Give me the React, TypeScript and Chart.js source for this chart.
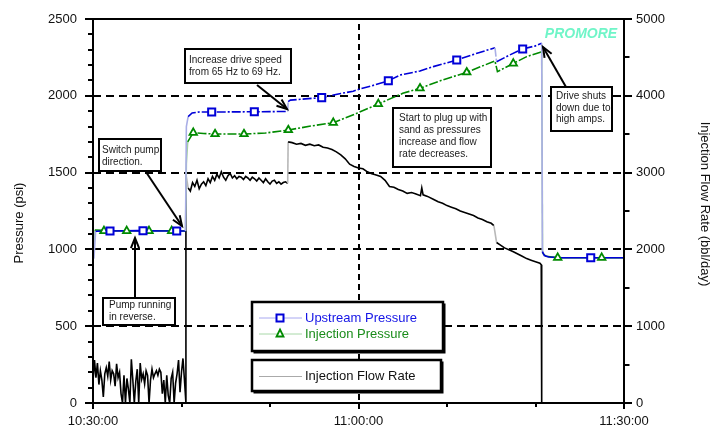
import React, { useEffect, useRef } from "react";
import { Chart, registerables } from "chart.js";

Chart.register(...registerables);

const FONT = '"Liberation Sans", Arial, Helvetica, sans-serif';

// ---- X axis (minutes after 10:30:00) ----
const xTickMinutes = [0, 30, 60];
const xTickLabels = ["10:30:00", "11:00:00", "11:30:00"];
const xMinorMinutes = [10, 20, 40, 50];

// ---- Upstream pressure (psi) ----
const upstreamTimes = [0.1, 0.3, 2, 5, 8, 10.45, 10.55, 10.75, 11.2, 12, 15, 18, 20, 22.0, 22.05, 22.3, 24, 25.84, 28, 29.4, 30.2, 31.5, 33.37, 34.69, 36.95, 38.45, 40, 41.1, 43.4, 45.42, 45.6, 47.1, 48.55, 50.0, 50.7, 50.78, 51.0, 51.5, 53, 56.24, 60];
const upstreamPsi = [940, 1118, 1120, 1122, 1120, 1120, 1800, 1865, 1888, 1895, 1895, 1896, 1897, 1898, 1962, 1972, 1980, 1988, 2015, 2030, 2045, 2065, 2098, 2135, 2162, 2190, 2215, 2233, 2277, 2313, 2222, 2266, 2305, 2325, 2342, 985, 960, 950, 946, 946, 946];
const upstreamMarkerTimes = [1.92, 5.65, 9.46, 13.41, 18.23, 25.84, 33.37, 41.1, 48.55, 56.24];
const upstreamMarkerPsi = [1120, 1121, 1120, 1895, 1896, 1988, 2098, 2233, 2305, 946];

// ---- Injection pressure (psi) ----
const injectionTimes = [0.0, 0.2, 2, 5, 8, 10.45, 10.55, 10.7, 11.33, 12.5, 13.79, 17.06, 19.5, 22.07, 24.6, 27.15, 29.8, 32.24, 35.0, 36.95, 39.5, 42.23, 45.42, 45.7, 47.49, 49.0, 50.7, 50.8, 51.2, 52.51, 57.48, 60];
const injectionPsi = [940, 1126, 1122, 1121, 1121, 1120, 1560, 1700, 1760, 1755, 1751, 1751, 1758, 1777, 1803, 1825, 1886, 1947, 2016, 2049, 2103, 2153, 2227, 2157, 2211, 2255, 2287, 975, 955, 946, 946, 946];
const injectionMarkerTimes = [1.24, 3.81, 6.33, 8.89, 11.33, 13.79, 17.06, 22.07, 27.15, 32.24, 36.95, 42.23, 47.49, 52.51, 57.48];
const injectionMarkerPsi = [1120, 1120, 1120, 1120, 1760, 1751, 1751, 1777, 1825, 1947, 2049, 2153, 2211, 946, 946];

// ---- Injection flow rate (bbl/day) ----
// reverse running, sampled every 10 s from 10:30:00
const flowReverseStart = 0;
const flowReverseStep = 1 / 6;
const flowReverse = [280, 560, 330, 520, 240, 420, 300, 80, 380, 460, 350, 540, 300, 420, 380, 220, 510, 330, 400, 120, 0, 360, 0, 320, 180, 0, 570, 300, 0, 280, 440, 0, 520, 310, 380, 250, 420, 360, 0, 300, 440, 330, 380, 420, 360, 440, 400, 120, 300, 0, 360, 100, 0, 320, 400, 0, 260, 380, 560, 140, 400, 580, 300, 0];
// forward at 65 Hz, sampled every 15 s from 10:40:30
const flowForwardStart = 10.5;
const flowForwardStep = 0.25;
const flowForward = [2980, 2800, 2760, 2870, 2820, 2900, 2790, 2850, 2880, 2830, 2920, 2870, 2950, 2900, 2980, 2930, 3010, 2940, 2900, 2960, 2990, 2930, 2960, 2920, 2950, 2940, 2910, 2950, 2930, 2900, 2940, 2920, 2890, 2930, 2900, 2870, 2920, 2880, 2850, 2890, 2900, 2860, 2880, 2850, 2870, 2880, 2860];
// 69 Hz, plugging up with sand, until shutdown
const flowPlugTimes = [22.05, 22.5, 23, 23.5, 24, 24.5, 25, 25.5, 26, 26.5, 27, 27.5, 28, 28.5, 29, 29.5, 30, 30.5, 31, 31.5, 32, 32.5, 33, 33.5, 34, 34.5, 35, 35.5, 36, 36.5, 37, 37.15, 37.3, 37.8, 38.5, 39, 39.5, 40, 40.5, 41, 41.5, 42, 42.5, 43, 43.5, 44, 44.5, 45, 45.3, 45.6, 46, 46.5, 47, 47.5, 48, 48.5, 49, 49.5, 50, 50.5, 50.65, 50.7, 60];
const flowPlugValues = [3400, 3390, 3370, 3380, 3355, 3370, 3350, 3360, 3330, 3320, 3300, 3270, 3230, 3180, 3110, 3080, 3060, 3050, 3010, 2985, 2970, 2950, 2900, 2820, 2810, 2780, 2760, 2730, 2740, 2720, 2700, 2800, 2710, 2690, 2650, 2620, 2600, 2570, 2550, 2530, 2500, 2480, 2460, 2440, 2410, 2390, 2360, 2340, 2310, 2090, 2060, 2020, 1995, 1970, 1940, 1910, 1880, 1860, 1840, 1820, 1800, 0, 0];

// ---- Axis ticks ----
const psiMax = 2500;
const psiStep = 500;
const psiMinorStep = 100;
const flowMax = 5000;
const flowStep = 1000;
const flowMinorStep = 500;
const psiGridValues = [500, 1000, 1500, 2000];
const timeGridValues = [30];

const BLUE = "#0000d8";
const GREEN = "#008a00";

const pairs = (ts: number[], vs: number[]) => ts.map((t, i) => ({ x: t, y: vs[i] }));
const sampled = (start: number, step: number, vs: number[]) => vs.map((v, i) => ({ x: start + i * step, y: v }));

export default function App() {
  const ref = useRef<HTMLCanvasElement | null>(null);

  useEffect(() => {
    const canvas = ref.current;
    if (!canvas) return;

    const upstream = pairs(upstreamTimes, upstreamPsi);
    const injection = pairs(injectionTimes, injectionPsi);
    const flow = [
      ...sampled(flowReverseStart, flowReverseStep, flowReverse),
      ...sampled(flowForwardStart, flowForwardStep, flowForward),
      ...pairs(flowPlugTimes, flowPlugValues),
    ];

    const lightVertical = (light: string) => (ctx: any) => {
      const dx = Math.abs(ctx.p1.x - ctx.p0.x);
      const dy = Math.abs(ctx.p1.y - ctx.p0.y);
      return dx < 2 && dy > 5 ? light : undefined;
    };
    const dashMid = (data: { x: number; y: number }[]) => (ctx: any) => {
      const t = data[ctx.p0DataIndex].x;
      return t > 10.6 && t < 50.7 ? [9, 2, 2, 2] : undefined;
    };
    const flowColor = (ctx: any) => {
      const dx = Math.abs(ctx.p1.x - ctx.p0.x);
      const dy = Math.abs(ctx.p1.y - ctx.p0.y);
      const a = flow[ctx.p0DataIndex].y;
      const b = flow[ctx.p1DataIndex].y;
      return dx < 3 && dy > 12 && Math.min(a, b) > 1000 ? "#b8b8b8" : undefined;
    };

    const drawArrow = (c: CanvasRenderingContext2D, x1: number, y1: number, x2: number, y2: number) => {
      c.save();
      c.strokeStyle = "#000";
      c.lineWidth = 2;
      c.beginPath();
      c.moveTo(x1, y1);
      c.lineTo(x2, y2);
      c.stroke();
      const ang = Math.atan2(y2 - y1, x2 - x1);
      const L = 11;
      const spread = 0.38;
      c.beginPath();
      c.moveTo(x2 - L * Math.cos(ang - spread), y2 - L * Math.sin(ang - spread));
      c.lineTo(x2, y2);
      c.lineTo(x2 - L * Math.cos(ang + spread), y2 - L * Math.sin(ang + spread));
      c.stroke();
      c.restore();
    };

    const drawNote = (c: CanvasRenderingContext2D, x: number, y: number, w: number, h: number, lines: string[], tx: number, ty: number, lh: number) => {
      c.save();
      c.fillStyle = "#fff";
      c.fillRect(x, y, w, h);
      c.strokeStyle = "#000";
      c.lineWidth = 2;
      c.strokeRect(x, y, w, h);
      c.fillStyle = "#1a1a1a";
      c.font = `10px ${FONT}`;
      c.textBaseline = "middle";
      c.textAlign = "left";
      lines.forEach((s, i) => c.fillText(s, tx, ty + i * lh));
      c.restore();
    };

    const drawLegendBox = (c: CanvasRenderingContext2D, x: number, y: number, w: number, h: number) => {
      c.save();
      c.fillStyle = "#000";
      c.fillRect(x + 1.5, y + 1.5, w + 1, h + 1);
      c.fillStyle = "#fff";
      c.fillRect(x, y, w, h);
      c.strokeStyle = "#000";
      c.lineWidth = 2.5;
      c.strokeRect(x, y, w, h);
      c.restore();
    };

    const decor = {
      id: "decor",
      beforeDatasetsDraw(chart: any) {
        const c = chart.ctx as CanvasRenderingContext2D;
        const { left, right, top, bottom } = chart.chartArea;
        const y = chart.scales.y;
        const x = chart.scales.x;
        c.save();
        c.strokeStyle = "#000";
        c.lineWidth = 2;
        c.setLineDash([8, 5]);
        psiGridValues.forEach((v) => {
          const py = Math.round(y.getPixelForValue(v));
          c.beginPath();
          c.moveTo(left, py);
          c.lineTo(right, py);
          c.stroke();
        });
        c.setLineDash([6, 4]);
        timeGridValues.forEach((v) => {
          const px = Math.round(x.getPixelForValue(v));
          c.beginPath();
          c.moveTo(px, top + 5);
          c.lineTo(px, bottom);
          c.stroke();
        });
        c.restore();
      },
      afterDatasetsDraw(chart: any) {
        const c = chart.ctx as CanvasRenderingContext2D;
        const { left, right, top, bottom } = chart.chartArea;
        const x = chart.scales.x;
        const y = chart.scales.y;
        const y2 = chart.scales.y2;
        c.save();
        // frame
        c.strokeStyle = "#000";
        c.lineWidth = 2;
        c.setLineDash([]);
        c.strokeRect(left, top, right - left, bottom - top);
        // left ticks
        for (let v = 0; v <= psiMax; v += psiMinorStep) {
          const py = Math.round(y.getPixelForValue(v));
          const len = v % psiStep === 0 ? 8 : 5;
          c.beginPath();
          c.moveTo(left - len, py);
          c.lineTo(left, py);
          c.stroke();
        }
        // right ticks
        for (let v = 0; v <= flowMax; v += flowMinorStep) {
          const py = Math.round(y2.getPixelForValue(v));
          const len = v % flowStep === 0 ? 8 : 5.5;
          c.beginPath();
          c.moveTo(right, py);
          c.lineTo(right + len, py);
          c.stroke();
        }
        // x ticks
        xTickMinutes.forEach((v) => {
          const px = Math.round(x.getPixelForValue(v));
          c.beginPath();
          c.moveTo(px, bottom);
          c.lineTo(px, bottom + 6);
          c.stroke();
        });
        xMinorMinutes.forEach((v) => {
          const px = Math.round(x.getPixelForValue(v));
          c.beginPath();
          c.moveTo(px, bottom);
          c.lineTo(px, bottom + 4);
          c.stroke();
        });

        // axis titles
        c.fillStyle = "#111";
        c.font = `13px ${FONT}`;
        c.textAlign = "center";
        c.textBaseline = "middle";
        c.save();
        c.translate(19, 223);
        c.rotate(-Math.PI / 2);
        c.fillText("Pressure (psi)", 0, 0);
        c.restore();
        c.save();
        c.translate(705, 204);
        c.rotate(Math.PI / 2);
        c.fillText("Injection Flow Rate (bbl/day)", 0, 0);
        c.restore();

        // annotations
        drawNote(c, 185, 49, 106, 34, ["Increase drive speed", "from 65 Hz to 69 Hz."], 189, 60.5, 12);
        drawArrow(c, 257, 85, 287, 109);
        drawNote(c, 99, 139, 62, 32, ["Switch pump", "direction."], 102, 150, 12.5);
        drawArrow(c, 146, 172, 182, 226);
        drawNote(c, 103, 298, 72, 27, ["Pump running", "in reverse."], 109, 305, 12.5);
        drawArrow(c, 135, 297, 135, 238);
        drawNote(c, 393, 108, 98, 59, ["Start to plug up with", "sand as pressures", "increase and flow", "rate decreases."], 399, 118, 12.2);
        drawNote(c, 551, 87, 61, 44, ["Drive shuts", "down due to", "high amps."], 556, 96, 11.8);
        drawArrow(c, 566, 87, 543, 47);

        // brand
        c.fillStyle = "#70f5c8";
        c.font = `italic bold 14px ${FONT}`;
        c.textAlign = "center";
        c.textBaseline = "middle";
        c.fillText("PROMORE", 581, 34);

        // legend
        drawLegendBox(c, 252, 302, 191, 49);
        drawLegendBox(c, 252, 360, 189, 31);
        c.lineWidth = 1;
        c.strokeStyle = "#a8a8f0";
        c.beginPath();
        c.moveTo(259, 318);
        c.lineTo(302, 318);
        c.stroke();
        c.strokeStyle = "#a8d8a8";
        c.beginPath();
        c.moveTo(259, 334);
        c.lineTo(302, 334);
        c.stroke();
        c.strokeStyle = "#aaaaaa";
        c.beginPath();
        c.moveTo(259, 376.5);
        c.lineTo(302, 376.5);
        c.stroke();
        // legend markers
        c.lineWidth = 2;
        c.strokeStyle = BLUE;
        c.fillStyle = "#fff";
        c.fillRect(276.5, 314.5, 7, 7);
        c.strokeRect(276.5, 314.5, 7, 7);
        c.strokeStyle = GREEN;
        c.lineWidth = 1.8;
        c.beginPath();
        c.moveTo(280, 329.5);
        c.lineTo(283.5, 336.5);
        c.lineTo(276.5, 336.5);
        c.closePath();
        c.fill();
        c.stroke();
        c.font = `13px ${FONT}`;
        c.textAlign = "left";
        c.textBaseline = "middle";
        c.fillStyle = "#1414e6";
        c.fillText("Upstream Pressure", 305, 318);
        c.fillStyle = "#1a8c1a";
        c.fillText("Injection Pressure", 305, 334);
        c.fillStyle = "#111";
        c.fillText("Injection Flow Rate", 305, 376.5);
        c.restore();
      },
    };

    const tickFont = { size: 13, family: FONT };
    const plainNumber = (v: any) => String(v);
    const hiddenGrid = (len: number) => ({
      display: true,
      drawOnChartArea: false,
      drawTicks: true,
      tickLength: len,
      color: "rgba(0,0,0,0)",
      tickColor: "rgba(0,0,0,0)",
    });

    const chart = new Chart(canvas, {
      type: "scatter",
      data: {
        datasets: [
          {
            label: "Upstream markers",
            data: pairs(upstreamMarkerTimes, upstreamMarkerPsi),
            yAxisID: "y",
            showLine: false,
            pointStyle: "rect",
            pointRadius: 5,
            borderColor: BLUE,
            backgroundColor: "#fff",
            borderWidth: 2,
            order: 0,
          },
          {
            label: "Injection markers",
            data: pairs(injectionMarkerTimes, injectionMarkerPsi),
            yAxisID: "y",
            showLine: false,
            pointStyle: "triangle",
            pointRadius: 4.3,
            borderColor: GREEN,
            backgroundColor: "#fff",
            borderWidth: 1.8,
            order: 1,
          },
          {
            label: "Upstream Pressure",
            data: upstream,
            yAxisID: "y",
            showLine: true,
            pointRadius: 0,
            borderColor: BLUE,
            borderWidth: 1.6,
            tension: 0,
            segment: { borderColor: lightVertical("#a9aee6"), borderDash: dashMid(upstream) },
            order: 2,
          },
          {
            label: "Injection Pressure",
            data: injection,
            yAxisID: "y",
            showLine: true,
            pointRadius: 0,
            borderColor: GREEN,
            borderWidth: 1.6,
            tension: 0,
            segment: { borderColor: lightVertical("#a6cfa6"), borderDash: dashMid(injection) },
            order: 3,
          },
          {
            label: "Injection Flow Rate",
            data: flow,
            yAxisID: "y2",
            showLine: true,
            pointRadius: 0,
            borderColor: "#000",
            borderWidth: 1.6,
            tension: 0,
            segment: { borderColor: flowColor },
            order: 4,
          },
        ],
      },
      options: {
        animation: false,
        responsive: false,
        devicePixelRatio: 1,
        layout: { padding: { top: 19, left: 0, right: 0, bottom: 0 } },
        plugins: { legend: { display: false }, tooltip: { enabled: false } },
        scales: {
          x: {
            type: "linear",
            position: "bottom",
            min: 0,
            max: 60,
            afterBuildTicks: (s: any) => {
              s.ticks = xTickMinutes.map((v) => ({ value: v }));
            },
            ticks: {
              autoSkip: false,
              maxRotation: 0,
              font: tickFont,
              color: "#111",
              padding: 3,
              callback: (v: any) => {
                const i = xTickMinutes.indexOf(Number(v));
                return i >= 0 ? xTickLabels[i] : "";
              },
            },
            grid: hiddenGrid(8),
            border: { display: false },
            afterFit: (s: any) => {
              s.height = 25;
            },
          },
          y: {
            type: "linear",
            position: "left",
            min: 0,
            max: psiMax,
            ticks: { stepSize: psiStep, font: tickFont, color: "#111", padding: 8, callback: plainNumber },
            grid: hiddenGrid(8),
            border: { display: false },
            afterFit: (s: any) => {
              s.width = 93;
            },
          },
          y2: {
            type: "linear",
            position: "right",
            min: 0,
            max: flowMax,
            ticks: { stepSize: flowStep, font: tickFont, color: "#111", padding: 4, callback: plainNumber },
            grid: hiddenGrid(8),
            border: { display: false },
            afterFit: (s: any) => {
              s.width = 99;
            },
          },
        },
      },
      plugins: [decor],
    } as any);

    return () => chart.destroy();
  }, []);

  return (
    <div style={{ position: "absolute", left: 0, top: 0, width: 723, height: 428, background: "#fff" }}>
      <canvas ref={ref} width={723} height={428} style={{ display: "block" }} />
    </div>
  );
}
